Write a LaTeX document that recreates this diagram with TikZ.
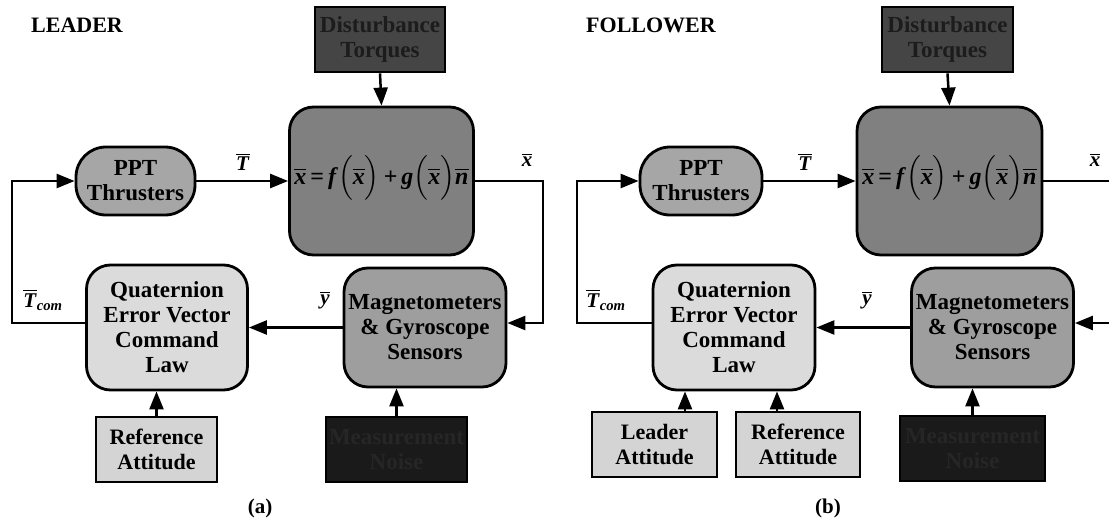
\documentclass[tikz,border=0pt]{standalone}
\usepackage{fontspec}
\setmainfont{Liberation Serif}
\usepackage{amsmath}
\usetikzlibrary{arrows.meta,calc}
% bold italic vector with an overbar
\newcommand{\myvec}[1]{\overline{\textbf{\textit{#1}}}}
\definecolor{distfill}{HTML}{454545}
\definecolor{disttext}{HTML}{1C1C1C}
\definecolor{noisefill}{HTML}{1A1A1A}
\definecolor{noisetext}{HTML}{262626}
\begin{document}
\begin{tikzpicture}[x=1pt,y=-1pt,
  blk/.style={draw=black,line width=2.8pt,align=center,inner sep=0pt,
    font=\fontsize{23}{25}\selectfont\bfseries},
  rblk/.style={blk,rounded corners=24pt},
  ppt/.style={rblk,rounded corners=30pt,fill=black!35,minimum height=68pt},
  plant/.style={rblk,fill=black!50,minimum width=184pt,minimum height=148pt},
  law/.style={rblk,fill=black!14,minimum width=161pt,minimum height=125pt},
  sens/.style={rblk,fill=black!38,minimum width=162pt,minimum height=119pt},
  dist/.style={blk,fill=distfill,text=disttext,minimum height=65pt},
  noise/.style={blk,fill=noisefill,text=noisetext,minimum height=65pt},
  attd/.style={blk,fill=black!17,minimum height=65pt,font=\fontsize{22}{25}\selectfont\bfseries},
  arr/.style={line width=2.5pt,-{Triangle[length=18pt,width=14pt]}},
  ln/.style={line width=2.5pt},
  lbl/.style={font=\fontsize{21}{24}\selectfont\bfseries},
  hd/.style={font=\fontsize{22}{24}\selectfont\bfseries},
  eqn/.style={font=\fontsize{24}{26}\selectfont\bfseries},
]
\useasboundingbox (0,0) rectangle (1109,522);

% ---------------- (a) leader ----------------
\node[hd] (hdA) at (77,25) {LEADER};
\node[dist,minimum width=130pt] (distA) at (380,39.5) {Disturbance\\Torques};
\node[ppt,minimum width=119pt] (pptA) at (135.5,181) {PPT\\Thrusters};
\node[plant] (plA) at (381.5,181) {};
\node[eqn] (eqA) at (381.5,178) {$\myvec{x}\textbf{\,=\,}\textbf{\textit{f}}\Bigl(\myvec{x}\Bigr)\textbf{\,+\,}\textbf{\textit{g}}\Bigl(\myvec{x}\Bigr)\myvec{n}$};
\node[law] (lawA) at (167,327.5) {Quaternion\\Error Vector\\Command\\Law};
\node[sens] (senA) at (425,327.5) {Magnetometers\\\& Gyroscope\\Sensors};
\node[attd,minimum width=121pt] (refA) at (156.5,449.5) {Reference\\Attitude};
\node[noise,minimum width=141pt] (noiA) at (396.5,449.5) {Measurement\\Noise};

\coordinate (oA1) at (543,181);
\coordinate (oA2) at (543,323);
\coordinate (fA) at (12,323);

\draw[arr] (pptA.east) -- (plA.west);
\draw[arr] (distA.south) -- (plA.north);
\draw[arr] (plA.east) -- (oA1) -- (oA2) -- (oA2 -| senA.east);
\draw[arr] (senA.west) -- (lawA.east);
\draw[arr] (fA -| lawA.west) -- (fA) |- (pptA.west);
\draw[arr] (refA.north) -- (refA.north |- lawA.south);
\draw[arr] (noiA.north) -- (noiA.north |- senA.south);

\node[lbl] (tA) at (243,162) {$\myvec{T}$};
\node[lbl] (xA) at (527,160) {$\myvec{x}$};
\node[lbl] (yA) at (325,300) {$\myvec{y}$};
\node[lbl] (tcA) at (43,300) {$\myvec{T}_{\textbf{\textit{com}}}$};
\node[lbl] (capA) at (260,508) {(a)};

% ---------------- (b) follower ----------------
\node[hd] (hdB) at (651,25) {FOLLOWER};
\node[dist,minimum width=131pt] (distB) at (947.5,39.5) {Disturbance\\Torques};
\node[ppt,minimum width=122pt] (pptB) at (701,181) {PPT\\Thrusters};
\node[plant,minimum width=185pt] (plB) at (949.5,181) {};
\node[eqn] (eqB) at (949.5,178) {$\myvec{x}\textbf{\,=\,}\textbf{\textit{f}}\Bigl(\myvec{x}\Bigr)\textbf{\,+\,}\textbf{\textit{g}}\Bigl(\myvec{x}\Bigr)\myvec{n}$};
\node[law,minimum width=162pt] (lawB) at (734,327.5) {Quaternion\\Error Vector\\Command\\Law};
\node[sens] (senB) at (992.5,327.5) {Magnetometers\\\& Gyroscope\\Sensors};
\node[attd,minimum width=125pt] (ldB) at (654.5,444.5) {Leader\\Attitude};
\node[attd,minimum width=124pt] (refB) at (798,444.5) {Reference\\Attitude};
\node[noise,minimum width=145pt] (noiB) at (972.5,448.5) {Measurement\\Noise};

\coordinate (oB1) at (1109,181);
\coordinate (oB2) at (1109,323);
\coordinate (fB) at (577,323);
\coordinate (uB1) at (685,0);
\coordinate (uB2) at (777,0);

\draw[arr] (pptB.east) -- (plB.west);
\draw[arr] (distB.south) -- (plB.north);
\draw[ln] (plB.east) -- (oB1);
\draw[arr] (oB2) -- (oB2 -| senB.east);
\draw[arr] (senB.west) -- (lawB.east);
\draw[arr] (fB -| lawB.west) -- (fB) |- (pptB.west);
\draw[arr] (ldB.north -| uB1) -- (lawB.south -| uB1);
\draw[arr] (refB.north -| uB2) -- (lawB.south -| uB2);
\draw[arr] (noiB.north) -- (noiB.north |- senB.south);

\node[lbl] (tB) at (805,162) {$\myvec{T}$};
\node[lbl] (xB) at (1095,160) {$\myvec{x}$};
\node[lbl] (yB) at (867,300) {$\myvec{y}$};
\node[lbl] (tcB) at (606,300) {$\myvec{T}_{\textbf{\textit{com}}}$};
\node[lbl] (capB) at (828,508) {(b)};
\end{tikzpicture}
\end{document}
